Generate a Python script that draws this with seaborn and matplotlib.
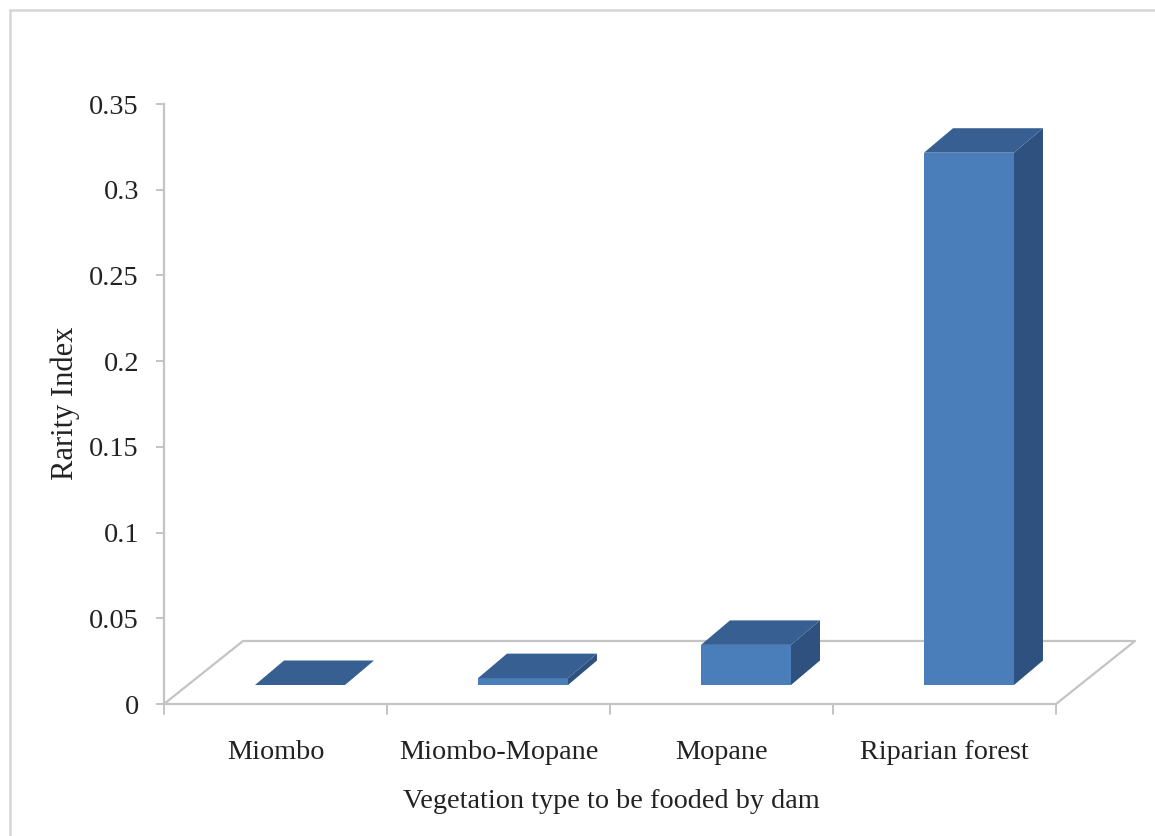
import matplotlib
matplotlib.use("Agg")
import matplotlib.pyplot as plt
import pandas as pd
import seaborn as sns
from matplotlib.lines import Line2D
from matplotlib.patches import Polygon

# Rarity index of each vegetation type
vegetation_types = ["Miombo", "Miombo-Mopane", "Mopane", "Riparian forest"]
rarity_index = [0.0, 0.004, 0.0234, 0.3105]
y_ticks = [0, 0.05, 0.1, 0.15, 0.2, 0.25, 0.3, 0.35]
y_tick_labels = ["0", "0.05", "0.1", "0.15", "0.2", "0.25", "0.3", "0.35"]

FIG_W, FIG_H = 1155, 836
AX_L, AX_R, AX_T, AX_B = 164, 1056, 104, 704
FRONT_COLOR = "#4A7EBB"
TOP_COLOR = "#375F92"
SIDE_COLOR = "#2F5180"
AXIS_COLOR = "#C4C4C4"
TEXT_COLOR = "#222222"

sns.set_theme(style="white")
plt.rcParams["font.family"] = ["Liberation Serif", "DejaVu Serif"]

fig = plt.figure(figsize=(FIG_W / 100, FIG_H / 100), dpi=100, facecolor="white")
ax = fig.add_axes([AX_L / FIG_W, 1 - AX_B / FIG_H,
                   (AX_R - AX_L) / FIG_W, (AX_B - AX_T) / FIG_H])

data = pd.DataFrame({"vegetation": vegetation_types, "rarity": rarity_index})

# One x category is 223 px wide and 0.35 index units span 600 px
px_x = 4 / (AX_R - AX_L)
px_y = 0.35 / (AX_B - AX_T)
floor_dx, floor_dy = 79 * px_x, 63 * px_y
bar_dx, bar_dy = 24.5 * px_x, 19 * px_y
depth_dx, depth_dy = 29 * px_x, 24.5 * px_y

sns.barplot(data=data, x="vegetation", y="rarity", color=FRONT_COLOR,
            saturation=1, width=90 / 223, bottom=bar_dy, linewidth=0, ax=ax)
ax.set_xlim(-0.5, 3.5)
ax.set_ylim(0, 0.35)

# Floor of the pseudo-3D plot area, drawn beneath the bars
floor_line = dict(color=AXIS_COLOR, lw=1.6, clip_on=False, zorder=1)
ax.plot([-0.5, -0.5 + floor_dx, 3.5 + floor_dx, 3.5],
        [0, floor_dy, floor_dy, 0], **floor_line)

# Extrude every front face into a top and a side face
for patch in ax.patches:
    patch.set_x(patch.get_x() + bar_dx)
    patch.set_zorder(3)
    patch.set_clip_on(False)
    x0, x1 = patch.get_x(), patch.get_x() + patch.get_width()
    y0, y1 = patch.get_y(), patch.get_y() + patch.get_height()
    ax.add_patch(Polygon([(x1, y0), (x1 + depth_dx, y0 + depth_dy),
                          (x1 + depth_dx, y1 + depth_dy), (x1, y1)],
                         facecolor=SIDE_COLOR, edgecolor="none",
                         zorder=3, clip_on=False))
    ax.add_patch(Polygon([(x0, y1), (x1, y1), (x1 + depth_dx, y1 + depth_dy),
                          (x0 + depth_dx, y1 + depth_dy)],
                         facecolor=TOP_COLOR, edgecolor="none",
                         zorder=3, clip_on=False))

# Axes
for side in ("top", "right"):
    ax.spines[side].set_visible(False)
for side in ("left", "bottom"):
    ax.spines[side].set_color(AXIS_COLOR)
    ax.spines[side].set_linewidth(1.6)

ax.set_yticks(y_ticks, y_tick_labels)
ax.set_xticks(range(len(vegetation_types)), vegetation_types)
ax.tick_params(axis="y", left=True, length=6, width=1.4, color=AXIS_COLOR,
               labelsize=20.3, labelcolor=TEXT_COLOR, pad=12)
ax.tick_params(axis="x", bottom=False, labelsize=20.3,
               labelcolor=TEXT_COLOR, pad=20)
for boundary in range(5):
    ax.plot([boundary - 0.5] * 2, [0, -10 * px_y], color=AXIS_COLOR,
            lw=1.4, clip_on=False, zorder=1)
ax.set_ylim(0, 0.35)

ax.set_xlabel("")
ax.set_ylabel("")
fig.text(611 / FIG_W, 1 - 802 / FIG_H, "Vegetation type to be fooded by dam",
         ha="center", va="center", fontsize=20.3, color=TEXT_COLOR)
fig.text(65 / FIG_W, 1 - 403 / FIG_H, "Rarity Index", rotation=90,
         ha="center", va="center", fontsize=22, color=TEXT_COLOR)

# Chart area frame: only its top and left edges fall inside the image
frame_style = dict(transform=fig.transFigure, color="#D6D6D6", lw=1.8)
fig.add_artist(Line2D([10 / FIG_W, 1], [1 - 10 / FIG_H] * 2, **frame_style))
fig.add_artist(Line2D([10 / FIG_W] * 2, [1 - 10 / FIG_H, 0], **frame_style))

fig.savefig("out.png", dpi=100, facecolor="white")
